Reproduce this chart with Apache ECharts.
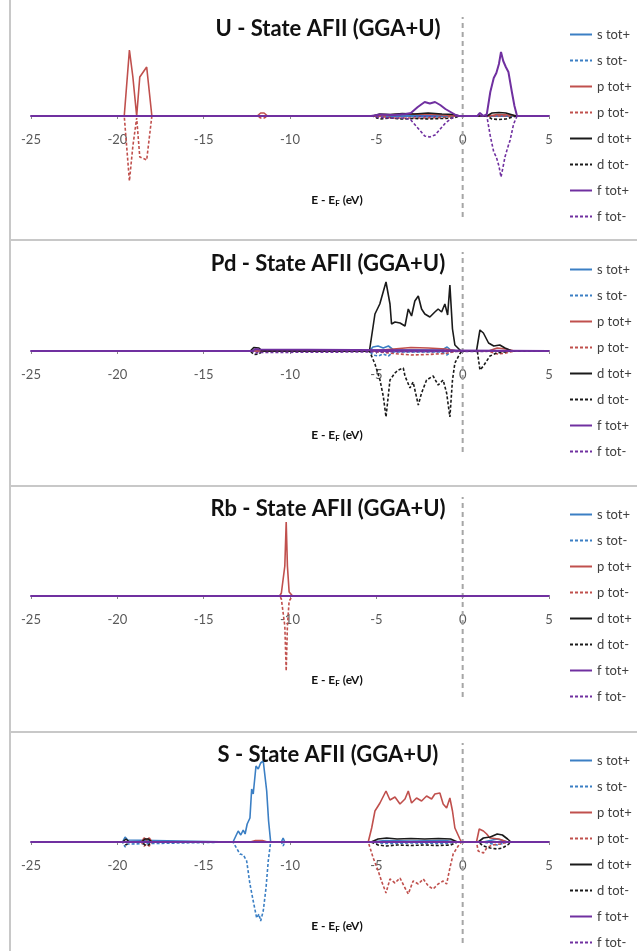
<!DOCTYPE html>
<html>
<head>
<meta charset="utf-8">
<script src="https://cdn.jsdelivr.net/npm/echarts@6/dist/echarts.min.js"></script>
<style>
  html, body { margin: 0; padding: 0; background: #fff; }
  #chart { width: 637px; height: 951px; }
</style>
</head>
<body>
<div id="chart"></div>
<script>
// energy axis (E - EF, eV)
const xMin = -25;
const xMax = 5;
const xStep = 5;
const legendNames = ['s tot+', 's tot-', 'p tot+', 'p tot-', 'd tot+', 'd tot-', 'f tot+', 'f tot-'];
const panelTitles = ['U - State AFII (GGA+U)', 'Pd - State AFII (GGA+U)', 'Rb - State AFII (GGA+U)', 'S - State AFII (GGA+U)'];
const flat = [[-25, 0], [5, 0]];
const fermiLine = [[0, -10.1], [0, 9.9]];

// ---- U ----
const U_s_up = [[-25, 0], [-3.2, 0], [-2.6, 0.1], [-1.6, 0.1], [-1, 0], [5, 0]];
const U_s_dn = [[-25, 0], [-3.2, 0], [-2.6, -0.1], [-1.6, -0.1], [-1, 0], [5, 0]];
const U_p_up = [[-25, 0], [-19.6, 0], [-19.3, 6.6], [-19.1, 3.9], [-18.88, 0], [-18.7, 3.9], [-18.3, 4.9], [-18.0, 0],
  [-11.9, 0], [-11.7, 0.3], [-11.5, 0.3], [-11.3, 0], [-5, 0], [-4, 0.15], [-2.5, 0.2], [-1.5, 0.15], [-0.5, 0],
  [1.5, 0], [2, 0.15], [2.8, 0.1], [3.1, 0], [5, 0]];
const U_p_dn = [[-25, 0], [-19.6, 0], [-19.3, -6.5], [-19.1, -3.0], [-18.88, -0.2], [-18.7, -4.1], [-18.3, -4.4], [-18.0, 0],
  [-11.9, 0], [-11.7, -0.2], [-11.5, -0.2], [-11.3, 0], [-5, 0], [-4, -0.2], [-2.5, -0.2], [-1, -0.15], [-0.5, 0], [5, 0]];
const U_d_up = [[-25, 0], [-5.2, 0], [-4.8, 0.2], [-4.2, 0.15], [-3.5, 0.25], [-2.8, 0.2], [-2, 0.3], [-1.2, 0.2], [-0.5, 0.15],
  [-0.2, 0], [1.4, 0], [1.7, 0.3], [2.1, 0.35], [2.5, 0.3], [2.9, 0.1], [3.1, 0], [5, 0]];
const U_d_dn = [[-25, 0], [-5.2, 0], [-4.8, -0.3], [-4.2, -0.2], [-3.5, -0.3], [-2.8, -0.25], [-2, -0.3], [-1.2, -0.25], [-0.5, -0.2],
  [-0.2, 0], [1.4, 0], [1.7, -0.3], [2.1, -0.35], [2.5, -0.3], [2.9, -0.1], [3.1, 0], [5, 0]];
const U_f_up = [[-25, 0], [-5.3, 0], [-4.8, 0.15], [-4, 0.1], [-3.3, 0.2], [-3.0, 0.3], [-2.6, 0.9], [-2.2, 1.4], [-1.9, 1.25],
  [-1.6, 1.4], [-1.3, 1.1], [-1.0, 0.7], [-0.7, 0.4], [-0.4, 0.1], [-0.2, 0], [0.85, 0], [1.0, 0.3], [1.2, 0], [1.4, 0.2],
  [1.6, 2.4], [1.8, 3.8], [1.95, 4.3], [2.1, 5.2], [2.22, 6.4], [2.35, 5.5], [2.5, 4.9], [2.65, 4.4], [2.85, 2.4], [3.0, 1.0],
  [3.15, 0], [5, 0]];
const U_f_dn = [[-25, 0], [-5.3, 0], [-4.8, -0.15], [-4, -0.2], [-3.3, -0.2], [-3.0, -0.4], [-2.6, -1.2], [-2.2, -2.0], [-1.9, -2.1],
  [-1.6, -1.9], [-1.3, -1.3], [-1.0, -0.7], [-0.7, -0.3], [-0.4, 0], [1.4, 0], [1.6, -2.0], [1.8, -3.6], [1.95, -4.1], [2.1, -5.0],
  [2.22, -6.1], [2.35, -5.0], [2.45, -4.1], [2.6, -3.2], [2.75, -2.4], [2.95, -0.8], [3.15, 0], [5, 0]];

// ---- Pd ----
const Pd_s_up = [[-25, 0], [-5.4, 0], [-5.2, 0.4], [-4.9, 0.5], [-4.6, 0.3], [-4.3, 0.5], [-4.0, 0.1], [-3.5, 0.1], [-1.2, 0.1],
  [-0.9, 0.4], [-0.7, 0.1], [-0.3, 0], [5, 0]];
const Pd_s_dn = [[-25, 0], [-5.4, 0], [-5.2, -0.4], [-4.9, -0.5], [-4.6, -0.3], [-4.3, -0.5], [-4.0, -0.1], [-3.5, -0.1], [-1.2, -0.1],
  [-0.9, -0.4], [-0.7, -0.1], [-0.3, 0], [5, 0]];
const Pd_p_up = [[-25, 0], [-5.3, 0], [-4, 0.2], [-3, 0.35], [-2, 0.3], [-1, 0.2], [-0.3, 0], [1.5, 0], [2, 0.3], [2.5, 0.2], [3, 0], [5, 0]];
const Pd_p_dn = [[-25, 0], [-5.3, 0], [-4, -0.25], [-3, -0.4], [-2, -0.35], [-1, -0.25], [-0.3, 0], [1.5, 0], [2, -0.3], [2.5, -0.2], [3, 0], [5, 0]];
const Pd_d_up = [[-25, 0], [-12.3, 0], [-12.1, 0.35], [-11.8, 0.3], [-11.6, 0], [-5.4, 0], [-5.08, 3.7], [-4.8, 4.7], [-4.44, 6.9],
  [-4.21, 4.7], [-4.12, 2.7], [-3.92, 2.9], [-3.63, 2.8], [-3.34, 2.5], [-3.15, 4.2], [-2.96, 3.5], [-2.77, 5.0], [-2.57, 5.5],
  [-2.38, 4.2], [-2.19, 3.7], [-1.9, 3.4], [-1.61, 3.9], [-1.42, 4.2], [-1.22, 3.9], [-1.03, 4.7], [-0.87, 3.6], [-0.74, 6.6],
  [-0.59, 2.2], [-0.45, 0.6], [-0.1, 0], [0.8, 0], [1.0, 2.1], [1.2, 1.8], [1.5, 0.8], [1.8, 0.5], [2.15, 0.6], [2.45, 0.3],
  [2.85, 0], [5, 0]];
const Pd_d_dn = [[-25, 0], [-12.3, 0], [-12.1, -0.35], [-11.8, -0.3], [-11.6, 0], [-5.4, 0], [-5.08, -1.3], [-4.79, -2.9], [-4.6, -4.5],
  [-4.44, -6.6], [-4.21, -2.9], [-3.92, -2.2], [-3.73, -1.9], [-3.44, -1.7], [-3.34, -2.5], [-3.05, -3.7], [-2.87, -3.1],
  [-2.57, -5.4], [-2.38, -4.2], [-2.09, -2.9], [-1.71, -2.5], [-1.42, -3.4], [-1.13, -2.9], [-0.93, -4.2], [-0.74, -6.6],
  [-0.59, -2.9], [-0.45, -1.2], [-0.17, -0.3], [-0.05, 0], [0.85, 0], [1.0, -1.9], [1.2, -1.5], [1.58, -0.5], [1.97, -0.2],
  [2.45, -0.1], [2.8, 0], [5, 0]];
const Pd_f_up = [[-25, 0], [-12.2, 0], [-12, 0.2], [-11.8, 0.15], [-11.7, 0], [5, 0]];
const Pd_f_dn = [[-25, 0], [-12.2, 0], [-12, -0.2], [-11.8, -0.15], [-11.7, 0], [5, 0]];

// ---- Rb ----
const Rb_p_up = [[-25, 0], [-10.6, 0], [-10.5, 0.3], [-10.4, 0.4], [-10.3, 3], [-10.22, 7.4], [-10.15, 3], [-10.05, 0.4],
  [-9.95, 0.3], [-9.85, 0], [5, 0]];
const Rb_p_dn = [[-25, 0], [-10.6, 0], [-10.5, -0.3], [-10.4, -0.5], [-10.3, -3], [-10.22, -7.5], [-10.15, -3], [-10.05, -0.5],
  [-9.95, -0.3], [-9.85, 0], [5, 0]];

// ---- S ----
const S_s_up = [[-25, 0], [-19.7, 0], [-19.55, 0.5], [-19.4, 0.2], [-19.3, 0], [-13.3, 0], [-13.0, 1.1], [-12.85, 0.7], [-12.71, 1.2],
  [-12.6, 0.8], [-12.48, 1.8], [-12.32, 2.4], [-12.22, 5.3], [-12.13, 4.8], [-11.97, 7.6], [-11.84, 7.3], [-11.7, 7.9],
  [-11.55, 8.1], [-11.35, 5.1], [-11.24, 2.1], [-11.12, 0], [-10.5, 0], [-10.4, 0.4], [-10.3, 0], [-5.3, 0], [-4.5, 0.15],
  [-3, 0.1], [-1, 0.15], [-0.3, 0], [1.2, 0], [2, 0.3], [2.6, 0], [5, 0]];
const S_s_dn = [[-25, 0], [-19.7, 0], [-19.55, -0.5], [-19.4, -0.2], [-19.3, 0], [-13.3, 0], [-12.9, -1.2], [-12.7, -1.3],
  [-12.51, -1.9], [-12.32, -4.2], [-12.13, -5.9], [-11.93, -7.6], [-11.8, -7.2], [-11.7, -7.9], [-11.55, -6.9], [-11.39, -4.6],
  [-11.26, -1.9], [-11.12, 0], [-10.5, 0], [-10.4, -0.4], [-10.3, 0], [-5.3, 0], [-4.5, -0.15], [-3, -0.1], [-1, -0.15],
  [-0.3, 0], [1.2, 0], [2, -0.3], [2.6, 0], [5, 0]];
const S_p_up = [[-25, 0], [-18.6, 0], [-18.45, 0.4], [-18.3, 0.2], [-18.15, 0.4], [-18.0, 0], [-12.3, 0], [-12, 0.15], [-11.6, 0.15],
  [-11.3, 0], [-5.47, 0], [-5.27, 1.4], [-5.08, 3.1], [-4.79, 3.9], [-4.44, 5.1], [-4.21, 4.2], [-3.92, 4.5], [-3.63, 3.8],
  [-3.34, 4.3], [-3.15, 5.1], [-2.96, 3.9], [-2.67, 4.4], [-2.38, 4.1], [-2.09, 4.6], [-1.8, 4.3], [-1.61, 4.8], [-1.32, 4.9],
  [-1.13, 3.8], [-0.93, 3.4], [-0.74, 4.4], [-0.59, 3.1], [-0.45, 1.4], [-0.16, 0.3], [-0.07, 0], [0.8, 0], [0.96, 1.3],
  [1.2, 1.1], [1.39, 0.8], [1.58, 0.4], [2.1, 0.3], [2.6, 0], [5, 0]];
const S_p_dn = [[-25, 0], [-18.6, 0], [-18.45, -0.4], [-18.3, -0.2], [-18.15, -0.4], [-18.0, 0], [-5.47, 0], [-5.18, -1.6],
  [-4.89, -2.9], [-4.7, -3.9], [-4.44, -5.1], [-4.21, -3.7], [-3.92, -4.1], [-3.63, -3.6], [-3.34, -4.6], [-3.15, -5.2],
  [-2.87, -3.9], [-2.57, -4.2], [-2.28, -3.7], [-1.99, -4.4], [-1.71, -4.7], [-1.42, -4.2], [-1.13, -3.9], [-0.93, -4.2],
  [-0.74, -2.6], [-0.55, -1.2], [-0.26, -0.4], [-0.07, 0], [0.8, 0], [0.9, -0.9], [1.2, -1.1], [1.39, -0.6], [1.7, -0.3],
  [2.2, -0.2], [2.6, 0], [5, 0]];
const S_d_up = [[-25, 0], [-19.7, 0], [-19.5, 0.3], [-19.3, 0], [-18.6, 0], [-18.4, 0.3], [-18.2, 0.3], [-18.0, 0], [-5.3, 0],
  [-4.9, 0.3], [-4.4, 0.4], [-3.8, 0.3], [-3, 0.35], [-2.2, 0.3], [-1.4, 0.35], [-0.7, 0.3], [-0.3, 0], [0.9, 0], [1.2, 0.4],
  [1.6, 0.5], [2.0, 0.8], [2.3, 0.7], [2.6, 0.3], [2.8, 0], [5, 0]];
const S_d_dn = [[-25, 0], [-19.7, 0], [-19.5, -0.3], [-19.3, 0], [-18.6, 0], [-18.4, -0.3], [-18.2, -0.3], [-18.0, 0], [-5.3, 0],
  [-4.9, -0.3], [-4.4, -0.4], [-3.8, -0.3], [-3, -0.35], [-2.2, -0.3], [-1.4, -0.35], [-0.7, -0.3], [-0.3, 0], [0.9, 0],
  [1.2, -0.4], [1.6, -0.6], [2.0, -0.7], [2.3, -0.6], [2.6, -0.3], [2.8, 0], [5, 0]];

const panelData = [
  [U_s_up, U_s_dn, U_p_up, U_p_dn, U_d_up, U_d_dn, U_f_up, U_f_dn],
  [Pd_s_up, Pd_s_dn, Pd_p_up, Pd_p_dn, Pd_d_up, Pd_d_dn, Pd_f_up, Pd_f_dn],
  [flat, flat, Rb_p_up, Rb_p_dn, flat, flat, flat, flat],
  [S_s_up, S_s_dn, S_p_up, S_p_dn, S_d_up, S_d_dn, flat, flat]
];

const colors = ['#3b7fc4', '#3b7fc4', '#c0504d', '#c0504d', '#1a1a1a', '#1a1a1a', '#7030a0', '#7030a0'];
// pixel row of the zero line in each panel
const axisYs = [116, 351, 596, 842];
const font = 'Lato, "Open Sans", sans-serif';

const chart = echarts.init(document.getElementById('chart'), null, { renderer: 'canvas' });

const grid = [], xAxis = [], yAxis = [], title = [], legend = [], series = [];
axisYs.forEach((ay, i) => {
  // grid holds the upper half; spin-down (negative) curves are drawn below it unclipped
  grid.push({ left: 31, width: 518, top: ay - 100, height: 100 });
  xAxis.push({
    gridIndex: i, type: 'value', min: xMin, max: xMax, interval: xStep, position: 'bottom',
    splitLine: { show: false },
    axisLine: { onZero: false, lineStyle: { color: '#7030a0', width: 2 } },
    axisTick: { show: true, length: 3, lineStyle: { color: '#888' } },
    axisLabel: { margin: 17, color: '#595959', fontSize: 13, fontFamily: font },
    name: 'E - E{sub|F} (eV)', nameLocation: 'middle', nameGap: 77,
    nameTextStyle: {
      fontFamily: font, fontWeight: 'bold', fontSize: 12, color: '#111',
      padding: [0, 0, 0, 94],
      rich: { sub: { fontFamily: font, fontWeight: 'bold', fontSize: 8, color: '#111', padding: [6, 0, 0, 0] } }
    }
  });
  yAxis.push({
    gridIndex: i, type: 'value', min: 0, max: 10,
    axisLine: { show: false }, axisTick: { show: false }, axisLabel: { show: false }, splitLine: { show: false }
  });
  title.push({
    text: panelTitles[i], left: 323, top: ay - 92, textAlign: 'center', textVerticalAlign: 'middle',
    textStyle: { fontFamily: font, fontWeight: 'bold', fontSize: 22, color: '#111' }
  });
  legend.push({
    orient: 'vertical', left: 569, top: ay - 88, padding: 0, itemWidth: 22, itemHeight: 14, itemGap: 13,
    data: legendNames,
    itemStyle: { opacity: 0 },
    textStyle: { fontFamily: font, fontSize: 13, color: '#404040' }
  });
  series.push({
    name: 'EF', type: 'line', xAxisIndex: i, yAxisIndex: i, data: fermiLine, symbol: 'none', silent: true, clip: false,
    lineStyle: { color: '#a6a6a6', type: [5, 4], width: 2 }, z: 1
  });
  panelData[i].forEach((d, k) => {
    series.push({
      name: legendNames[k], type: 'line', xAxisIndex: i, yAxisIndex: i,
      data: d, symbol: 'none', silent: true, clip: false,
      lineStyle: { color: colors[k], width: k === 6 ? 2 : 1.6, type: k % 2 ? [3, 2] : 'solid' },
      itemStyle: { color: colors[k] },
      z: 2 + k
    });
  });
});

chart.setOption({
  animation: false,
  backgroundColor: '#fff',
  grid, xAxis, yAxis, title, legend, series,
  graphic: [
    { type: 'line', shape: { x1: 10, y1: 0, x2: 10, y2: 951 }, style: { stroke: '#c8c8c8', lineWidth: 2 } },
    { type: 'line', shape: { x1: 10, y1: 240, x2: 637, y2: 240 }, style: { stroke: '#c8c8c8', lineWidth: 2 } },
    { type: 'line', shape: { x1: 10, y1: 486, x2: 637, y2: 486 }, style: { stroke: '#c8c8c8', lineWidth: 2 } },
    { type: 'line', shape: { x1: 10, y1: 732, x2: 637, y2: 732 }, style: { stroke: '#c8c8c8', lineWidth: 2 } }
  ]
});
</script>
</body>
</html>
